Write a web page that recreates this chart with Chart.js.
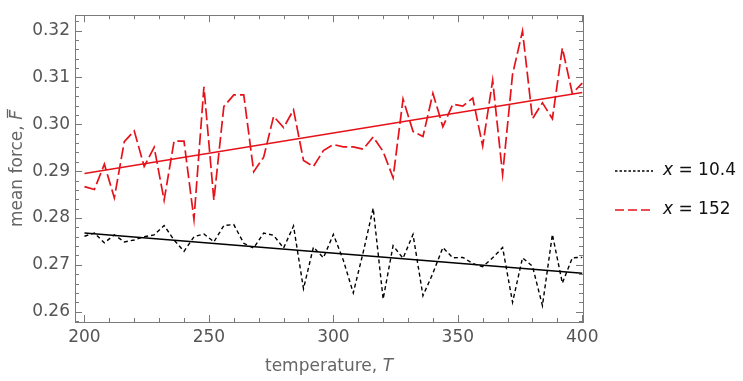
<!DOCTYPE html>
<html>
<head>
<meta charset="utf-8">
<script src="https://cdn.jsdelivr.net/npm/chart.js@4"></script>
<style>
  body { margin: 0; background: #fff; }
</style>
</head>
<body>
<canvas id="forceChart" width="743" height="381"></canvas>
<script>
// temperature samples
const temps = [
	200, 204, 208, 212, 216, 220, 224, 228, 232, 236,
	240, 244, 248, 252, 256, 260, 264, 268, 272, 276,
	280, 284, 288, 292, 296, 300, 304, 308, 312, 316,
	320, 324, 328, 332, 336, 340, 344, 348, 352, 356,
	360, 364, 368, 372, 376, 380, 384, 388, 392, 396, 400,
];

// x = 10.4 (black, dotted)
const forceX104 = [
	0.2761, 0.2768, 0.2747, 0.2764, 0.2749, 0.2753, 0.2760, 0.2764, 0.2784, 0.2753,
	0.2729, 0.2760, 0.2766, 0.2749, 0.2784, 0.2786, 0.2746, 0.2736, 0.2768, 0.2763,
	0.2736, 0.2783, 0.2649, 0.2738, 0.2715, 0.2765, 0.2710, 0.2640, 0.2727, 0.2821,
	0.2627, 0.2741, 0.2714, 0.2765, 0.2634, 0.2682, 0.2737, 0.2715, 0.2716, 0.2703,
	0.2696, 0.2715, 0.2737, 0.2620, 0.2715, 0.2697, 0.2613, 0.2765, 0.2661, 0.2715, 0.2716,
];

// x = 152 (red, dashed)
const forceX152 = [
	0.2867, 0.2861, 0.2915, 0.2843, 0.2963, 0.2986, 0.2910, 0.2951, 0.2838, 0.2964,
	0.2964, 0.2797, 0.3080, 0.2838, 0.3038, 0.3063, 0.3063, 0.2899, 0.2930, 0.3017,
	0.2993, 0.3031, 0.2923, 0.2910, 0.2944, 0.2957, 0.2952, 0.2952, 0.2947, 0.2973,
	0.2942, 0.2886, 0.3054, 0.2985, 0.2974, 0.3066, 0.2995, 0.3043, 0.3039, 0.3056,
	0.2954, 0.3094, 0.2893, 0.3107, 0.3199, 0.3012, 0.3046, 0.3012, 0.3163, 0.3066, 0.3088,
];

// linear fits
const fitT = [200, 400];
const fitX104 = [0.2768, 0.2682];
const fitX152 = [0.2895, 0.3068];

const xTickLabels = [200, 250, 300, 350, 400];
const yTickLabels = [0.26, 0.27, 0.28, 0.29, 0.30, 0.31, 0.32];
const legendLabels = ["10.4", "152"];

const RED = "#e6121a";
const FONT = "'DejaVu Sans', sans-serif";

function toPoints(xs, ys) {
	return xs.map((x, i) => ({ x, y: ys[i] }));
}

// frame, inward ticks, axis titles and legend
const framePlugin = {
	id: "frame",
	afterDraw(chart) {
		const { ctx, chartArea: a, scales } = chart;
		const xs = scales.x;
		const ys = scales.y;
		ctx.save();

		ctx.strokeStyle = "#7a7a7a";
		ctx.lineWidth = 1;
		ctx.strokeRect(Math.round(a.left) + 0.5, Math.round(a.top) + 0.5,
			Math.round(a.right - a.left), Math.round(a.bottom - a.top));

		ctx.beginPath();
		for (let t = 200; t <= 400; t += 10) {
			const px = Math.round(xs.getPixelForValue(t)) + 0.5;
			const len = t % 50 === 0 ? 7 : 4;
			ctx.moveTo(px, a.bottom);
			ctx.lineTo(px, a.bottom - len);
			ctx.moveTo(px, a.top);
			ctx.lineTo(px, a.top + len);
		}
		for (let k = 129; k <= 161; k++) {
			const v = k / 500;
			const py = Math.round(ys.getPixelForValue(v)) + 0.5;
			const len = k % 5 === 0 ? 7 : 4;
			ctx.moveTo(a.left, py);
			ctx.lineTo(a.left + len, py);
			ctx.moveTo(a.right, py);
			ctx.lineTo(a.right - len, py);
		}
		ctx.stroke();

		// x title
		ctx.fillStyle = "#666";
		ctx.textBaseline = "middle";
		const normal = "17px " + FONT;
		const italic = "italic 17px " + FONT;
		ctx.font = normal;
		const xPart = "temperature, ";
		const w1 = ctx.measureText(xPart).width;
		ctx.font = italic;
		const w2 = ctx.measureText("T").width;
		let sx = (a.left + a.right) / 2 - (w1 + w2) / 2;
		ctx.font = normal;
		ctx.fillText(xPart, sx, 367);
		ctx.font = italic;
		ctx.fillText("T", sx + w1, 367);

		// y title
		ctx.save();
		ctx.translate(18, (a.top + a.bottom) / 2);
		ctx.rotate(-Math.PI / 2);
		ctx.font = normal;
		const yPart = "mean force, ";
		const w3 = ctx.measureText(yPart).width;
		ctx.font = italic;
		const w4 = ctx.measureText("F").width;
		sx = -(w3 + w4) / 2;
		ctx.font = normal;
		ctx.fillText(yPart, sx, 0);
		ctx.font = italic;
		ctx.fillText("F", sx + w3, 0);
		ctx.strokeStyle = "#666";
		ctx.lineWidth = 1.3;
		ctx.beginPath();
		ctx.moveTo(sx + w3 + 2, -10.5);
		ctx.lineTo(sx + w3 + w4 + 1, -10.5);
		ctx.stroke();
		ctx.restore();

		// legend
		const rows = [
			{ y: 171, color: "#000", dash: [2.5, 2], label: legendLabels[0] },
			{ y: 210, color: RED, dash: [9, 4], label: legendLabels[1] },
		];
		rows.forEach(({ y, color, dash, label }) => {
			ctx.strokeStyle = color;
			ctx.lineWidth = 1.4;
			ctx.setLineDash(dash);
			ctx.beginPath();
			ctx.moveTo(615, y);
			ctx.lineTo(653, y);
			ctx.stroke();
			ctx.setLineDash([]);
			ctx.fillStyle = "#111";
			ctx.font = italic;
			ctx.fillText("x", 663, y);
			const wx = ctx.measureText("x").width;
			ctx.font = normal;
			ctx.fillText(" = " + label, 663 + wx, y);
		});

		ctx.restore();
	},
};

const ctx = document.getElementById("forceChart").getContext("2d");
new Chart(ctx, {
	type: "line",
	data: {
		datasets: [
			{
				label: "x = 10.4",
				data: toPoints(temps, forceX104),
				borderColor: "#000",
				borderWidth: 1.4,
				borderDash: [4, 3],
				pointRadius: 0,
				tension: 0,
			},
			{
				label: "fit 10.4",
				data: toPoints(fitT, fitX104),
				borderColor: "#000",
				borderWidth: 1.6,
				pointRadius: 0,
			},
			{
				label: "x = 152",
				data: toPoints(temps, forceX152),
				borderColor: RED,
				borderWidth: 1.7,
				borderDash: [12, 4],
				pointRadius: 0,
				tension: 0,
			},
			{
				label: "fit 152",
				data: toPoints(fitT, fitX152),
				borderColor: RED,
				borderWidth: 1.6,
				pointRadius: 0,
			},
		],
	},
	options: {
		responsive: false,
		animation: false,
		layout: { padding: { top: 2, right: 160, left: 0, bottom: 0 } },
		plugins: {
			legend: { display: false },
			tooltip: { enabled: false },
		},
		scales: {
			x: {
				type: "linear",
				min: 196.2,
				max: 400.3,
				afterBuildTicks: (s) => {
					s.ticks = xTickLabels.map((v) => ({ value: v }));
				},
				afterFit: (s) => {
					s.height = 59;
				},
				grid: { display: false, drawTicks: false },
				border: { display: false },
				ticks: {
					font: { family: FONT, size: 17 },
					color: "#555",
					padding: 5,
					maxRotation: 0,
					autoSkip: false,
				},
			},
			y: {
				type: "linear",
				min: 0.2578,
				max: 0.3233,
				afterBuildTicks: (s) => {
					s.ticks = yTickLabels.map((v) => ({ value: v }));
				},
				afterFit: (s) => {
					s.width = 75;
				},
				grid: { display: false, drawTicks: false },
				border: { display: false },
				ticks: {
					font: { family: FONT, size: 17 },
					color: "#555",
					padding: 5,
					autoSkip: false,
					callback: (v) => Number(v).toFixed(2),
				},
			},
		},
	},
	plugins: [framePlugin],
});
</script>
</body>
</html>
